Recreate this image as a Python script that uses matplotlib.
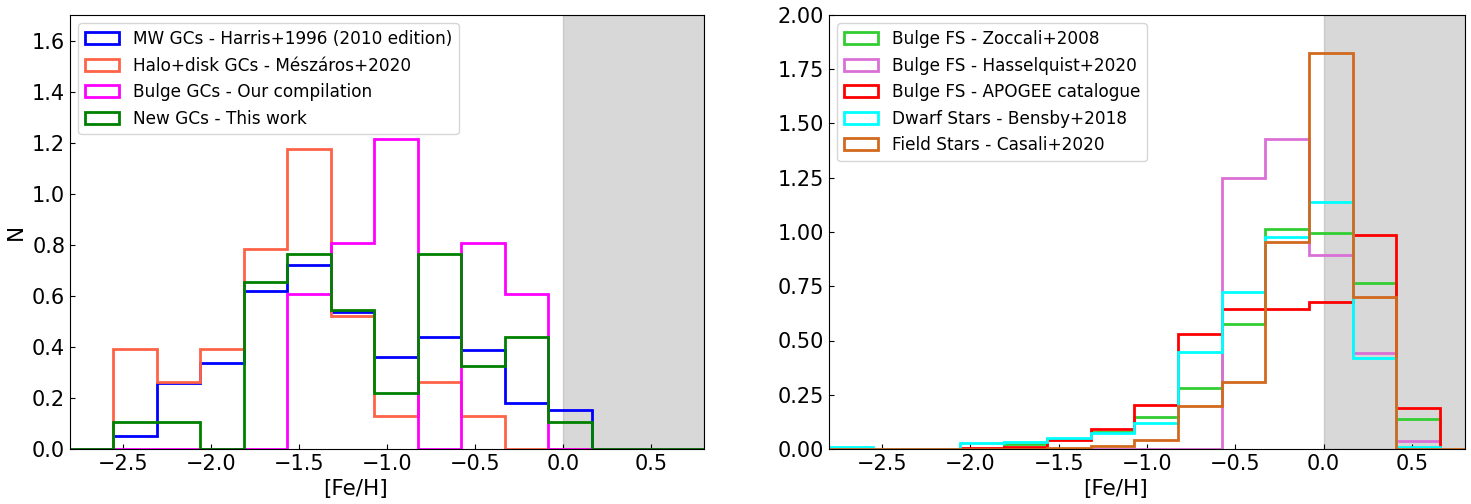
import matplotlib
matplotlib.use("Agg")
import matplotlib.pyplot as plt
import numpy as np

# bordes de los bins en [Fe/H]
bins = -2.8 + 0.247 * np.arange(16)

# panel izquierdo: cumulos globulares
harris = [0, 0.051, 0.257, 0.335, 0.617, 0.722, 0.537, 0.359, 0.437, 0.387, 0.179, 0.153, 0, 0, 0]
meszaros = [0, 0.390, 0.261, 0.390, 0.782, 1.176, 0.522, 0.129, 0.261, 0.129, 0, 0, 0, 0, 0]
bulge_gcs = [0, 0, 0, 0, 0, 0.606, 0.807, 1.215, 0, 0.807, 0.606, 0, 0, 0, 0]
new_gcs = [0, 0.107, 0.107, 0, 0.656, 0.765, 0.546, 0.218, 0.765, 0.327, 0.437, 0.107, 0, 0, 0]

# panel derecho: estrellas de campo
zoccali = [0, 0, 0, 0, 0.025, 0.045, 0.080, 0.146, 0.283, 0.574, 1.012, 0.994, 0.767, 0.137]
hasselquist = [0, 0, 0, 0, 0, 0, 0, 0, 0, 1.247, 1.429, 0.892, 0.441, 0.038]
apogee = [0, 0, 0, 0.006, 0.011, 0.040, 0.091, 0.203, 0.528, 0.644, 0.644, 0.679, 0.988, 0.187]
bensby = [0.011, 0, 0, 0.028, 0.032, 0.051, 0.072, 0.118, 0.445, 0.725, 0.978, 1.140, 0.418, 0.011]
casali = [0, 0, 0, 0, 0, 0.005, 0.014, 0.041, 0.200, 0.307, 0.952, 1.823, 0.700, 0, 0]

izq = [(harris, 'blue', 'MW GCs - Harris+1996 (2010 edition)'),
       (meszaros, 'tomato', 'Halo+disk GCs - Mészáros+2020'),
       (bulge_gcs, 'magenta', 'Bulge GCs - Our compilation'),
       (new_gcs, 'green', 'New GCs - This work')]

der = [(zoccali, 'limegreen', 'Bulge FS - Zoccali+2008'),
       (hasselquist, 'orchid', 'Bulge FS - Hasselquist+2020'),
       (apogee, 'red', 'Bulge FS - APOGEE catalogue'),
       (bensby, 'cyan', 'Dwarf Stars - Bensby+2018'),
       (casali, 'chocolate', 'Field Stars - Casali+2020')]

fig = plt.figure(figsize=(14.71, 5.04), dpi=100)
ax1 = fig.add_axes([70/1471, 55/504, 634/1471, 434/504])
ax2 = fig.add_axes([829/1471, 55/504, 636/1471, 434/504])

for ax, series in ((ax1, izq), (ax2, der)):
    ax.axvspan(0, 0.8, color='grey', alpha=0.3, zorder=0)
    for vals, col, lab in series:
        b = bins[:len(vals) + 1]
        ax.hist(b[:-1], bins=b, weights=vals, histtype='step', color=col, lw=2, label=lab)
    ax.set_xlim(-2.8, 0.8)
    ax.set_xticks([-2.5, -2.0, -1.5, -1.0, -0.5, 0.0, 0.5])
    ax.tick_params(direction='in', labelsize=15)
    ax.set_xlabel('[Fe/H]', fontsize=15.5)
    ax.xaxis.label.set_x(0.45)  # en el original la etiqueta queda algo a la izquierda
    ax.legend(loc='upper left', fontsize=12.2)

ax1.set_ylim(0, 1.7)
ax1.set_yticks(np.arange(0, 1.61, 0.2))
ax1.set_ylabel('N', fontsize=15.5)

ax2.set_ylim(0, 2.0)
ax2.set_yticks(np.arange(0, 2.01, 0.25))
ax2.yaxis.set_major_formatter(matplotlib.ticker.FormatStrFormatter('%.2f'))

fig.savefig('out.png', dpi=100)
